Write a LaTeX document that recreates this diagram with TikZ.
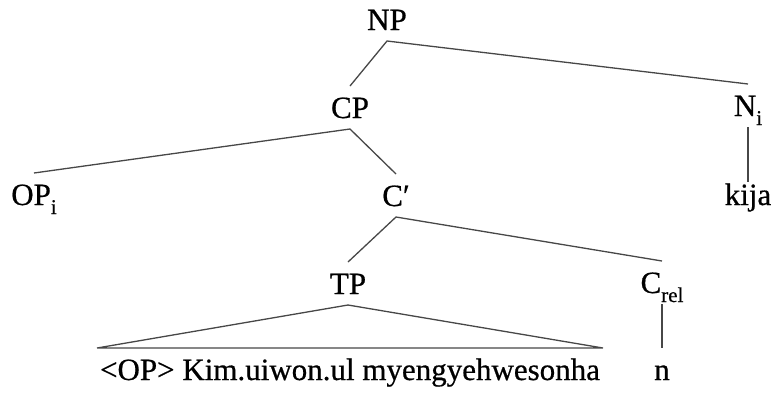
\documentclass[tikz,border=0pt]{standalone}
\usepackage{fontspec}
\setmainfont{Liberation Serif}[FakeBold=0.6]
% lowered subscript in a smaller size
\newcommand\lowsub[1]{\raisebox{-9pt}{\fontsize{21}{21}\selectfont #1}}
\tikzset{
  lbl/.style={anchor=base, inner sep=0pt, text height=21pt, text depth=0pt,
              outer xsep=0pt, outer ysep=11pt, font=\fontsize{31}{36}\selectfont},
  branch/.style={draw=black!72, line width=1.3pt, line join=miter},
}
\begin{document}
\begin{tikzpicture}[x=1pt,y=-1pt]
  \useasboundingbox (0,0) rectangle (771,392);
  % labels, placed on their baselines
  \node[lbl] (np)   at (387,30)  {NP};
  \node[lbl] (cp)   at (350,118) {CP};
  \node[lbl] (ni)   at (748,116) {N\lowsub{i}};
  \node[lbl] (opi)  at (34,205)  {OP\lowsub{i}};
  \node[lbl] (cbar) at (396,206) {C′};
  \node[lbl, outer ysep=2pt] (kija) at (748,205) {kija};
  \node[lbl] (tp)   at (348,294) {TP};
  \node[lbl] (crel) at (662,293) {C\lowsub{rel}};
  \node[lbl] (str)  at (350,380) {<OP> Kim.uiwon.ul myengyehwesonha};
  \node[lbl] (n)    at (662,380) {n};
  % branches
  \draw[branch] (cp.north) -- (np.south) -- (ni.north);
  \draw[branch] (opi.north) -- (cp.south) -- (cbar.north);
  \draw[branch] (ni.south) -- (kija.north);
  \draw[branch] (tp.north) -- (cbar.south) -- (crel.north);
  \draw[branch] (crel.south) -- (n.north);
  % roof over the unanalysed TP
  \draw[branch] ([xshift=-3pt]str.north west) -- (tp.south)
                -- ([xshift=3pt]str.north east) -- cycle;
\end{tikzpicture}
\end{document}
